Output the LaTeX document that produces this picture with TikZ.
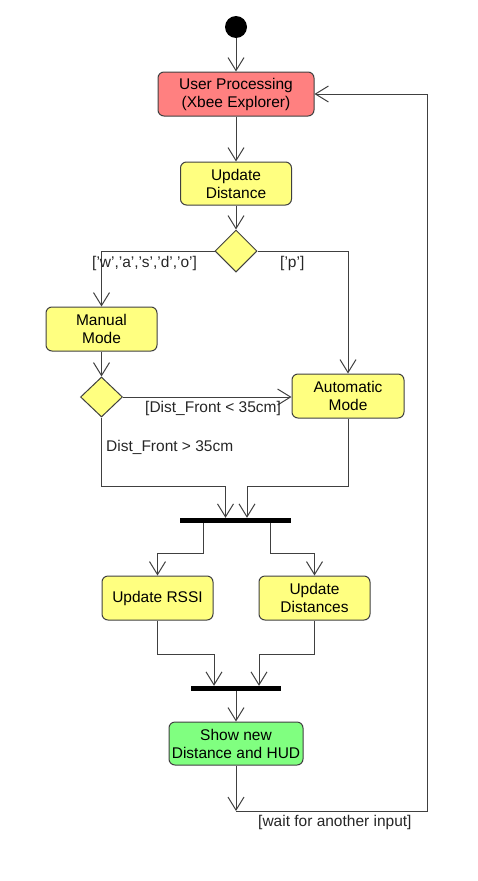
\documentclass[tikz,border=0pt]{standalone}
\usepackage{fontspec}
\setmainfont{Liberation Sans}
\usetikzlibrary{shapes.geometric,arrows.meta}
\definecolor{lc}{HTML}{404040}
\definecolor{redf}{HTML}{FF8080}
\definecolor{yelf}{HTML}{FFFF80}
\definecolor{grnf}{HTML}{80FF80}
\tikzset{
  act/.style={draw=lc, line width=1pt, rounded corners=6pt, align=center, inner sep=0pt,
    font=\fontsize{15.5}{18}\selectfont},
  yact/.style={act, fill=yelf},
  dec/.style={diamond, draw=lc, line width=1pt, fill=yelf, inner sep=0pt},
  bar/.style={rectangle, fill=black, draw=none, inner sep=0pt},
  flow/.style={draw=lc, line width=1pt, -{Straight Barb[length=13pt,width=16pt]}},
  plain/.style={draw=lc, line width=1pt},
  lbl/.style={anchor=west, inner sep=0pt, font=\fontsize{15.5}{18}\selectfont, text=black!85}
}
\begin{document}
\begin{tikzpicture}[x=1pt,y=-1pt]
\useasboundingbox (0,0) rectangle (477,881);
\node[circle, fill=black, minimum size=22pt, inner sep=0pt] (start) at (236,27) {};
\node[act, fill=redf, minimum width=156pt, minimum height=44pt] (up) at (236,94) {User Processing\\(Xbee Explorer)};
\node[yact, minimum width=111pt, minimum height=43pt] (ud) at (236,183.5) {Update\\Distance};
\node[dec, minimum width=42pt, minimum height=42pt] (d1) at (236,251) {};
\node[yact, minimum width=111pt, minimum height=44pt] (mm) at (101.5,329) {Manual\\Mode};
\node[dec, minimum width=42pt, minimum height=40pt] (d2) at (101.5,397) {};
\node[yact, minimum width=112pt, minimum height=44pt] (am) at (348,396) {Automatic\\Mode};
\node[bar, minimum width=111pt, minimum height=5pt] (bar1) at (235.5,520.5) {};
\node[yact, minimum width=111pt, minimum height=44pt] (rssi) at (157.5,598) {Update RSSI};
\node[yact, minimum width=111pt, minimum height=44pt] (uds) at (314.5,598) {Update\\Distances};
\node[bar, minimum width=90pt, minimum height=5pt] (bar2) at (236,688.5) {};
\node[act, fill=grnf, minimum width=134pt, minimum height=43pt] (show) at (236,743.5) {Show new\\Distance and HUD};
\coordinate (wait) at (236,811);

\draw[flow] (start) -- (up);
\draw[flow] (up) -- (ud);
\draw[flow] (ud) -- (d1);
\draw[flow] (d1.west) -| (mm.north);
\draw[flow] (d1.east) -| (am.north);
\draw[flow] (mm) -- (d2);
\draw[flow] (d2.east) -- (d2.east -| am.west);
\draw[flow] (d2.south) -- ++(0,69) -| ([xshift=-10pt]bar1.north);
\draw[flow] (am.south) -- ++(0,68) -| ([xshift=11.5pt]bar1.north);
\draw[flow] ([xshift=-32.5pt]bar1.south) -- ++(0,30) -| (rssi.north);
\draw[flow] ([xshift=34.5pt]bar1.south) -- ++(0,30) -| (uds.north);
\draw[flow] (rssi.south) -- ++(0,34) -| ([xshift=-22pt]bar2.north);
\draw[flow] (uds.south) -- ++(0,34) -| ([xshift=23pt]bar2.north);
\draw[flow] (bar2) -- (show);
\draw[flow] (show.south) -- (wait);
\draw[flow] (wait) -- ++(191,0) |- (up.east);

\node[lbl] (l1) at (92,263) {['w','a','s','d','o']};
\node[lbl] (l2) at (280,263) {['p']};
\node[lbl] (l3) at (145,408) {[Dist\_Front < 35cm]};
\node[lbl] (l4) at (106,447) {Dist\_Front > 35cm};
\node[lbl] (l5) at (258,822) {[wait for another input]};
\end{tikzpicture}
\end{document}
